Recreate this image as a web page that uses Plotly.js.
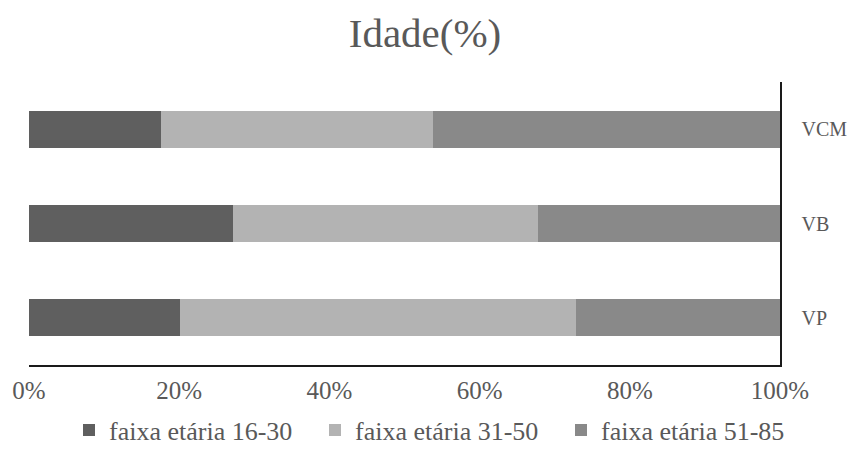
<!DOCTYPE html>
<html>
<head>
<meta charset="utf-8">
<script src="https://cdn.plot.ly/plotly-3.0.1.min.js"></script>
<style>html,body{margin:0;padding:0;background:#fff;}#chart{width:850px;height:459px;}</style>
</head>
<body>
<div id="chart"></div>
<script>
const categories = ['VP', 'VB', 'VCM'];
const seriesNames = ['faixa etária 16-30', 'faixa etária 31-50', 'faixa etária 51-85'];
const age16_30 = [20.1, 27.1, 17.6];
const age31_50 = [52.7, 40.7, 36.2];
const age51_85 = [27.2, 32.2, 46.2];
const xTickVals = [0, 20, 40, 60, 80, 100];
const xTickText = ['0%', '20%', '40%', '60%', '80%', '100%'];

const colors = ['#5f5f5f', '#b3b3b3', '#898989'];
const seriesValues = [age16_30, age31_50, age51_85];
const font = 'Liberation Serif, serif';

const traces = seriesValues.map((vals, i) => ({
  type: 'bar',
  orientation: 'h',
  name: seriesNames[i],
  y: categories,
  x: vals,
  marker: {color: colors[i], line: {width: 0}},
  hoverinfo: 'x+name'
}));

const layout = {
  width: 850, height: 459,
  barmode: 'stack',
  bargap: 0.61,
  paper_bgcolor: '#fff', plot_bgcolor: '#fff',
  margin: {l: 29, r: 70, t: 82, b: 94},
  font: {family: font, color: '#595959', size: 25},
  title: {text: 'Idade(%)', font: {family: font, size: 41, color: '#595959'},
          x: 0.5, xanchor: 'center', xref: 'container', y: 1 - 33/459, yanchor: 'middle', yref: 'container'},
  xaxis: {range: [0, 100], tickvals: xTickVals, ticktext: xTickText, showgrid: false, zeroline: false,
          showline: true, linecolor: '#1a1a1a', linewidth: 1.5, ticks: '', ticklabelstandoff: 2,
          tickfont: {size: 25}, fixedrange: true},
  yaxis: {side: 'right', showgrid: false, zeroline: false, showline: true, linecolor: '#1a1a1a', linewidth: 1.5,
          ticks: '', ticklabelstandoff: 16, tickfont: {size: 20}, categoryorder: 'array', categoryarray: categories},
  legend: {orientation: 'h', x: 69/850, xanchor: 'left', xref: 'container', y: (459-430)/459, yanchor: 'middle', yref: 'container',
           font: {size: 26, color: '#595959'}, traceorder: 'normal', entrywidth: 201, entrywidthmode: 'pixels'},
  showlegend: true
};

Plotly.newPlot('chart', traces, layout, {displayModeBar: false, staticPlot: true});
</script>
</body>
</html>
